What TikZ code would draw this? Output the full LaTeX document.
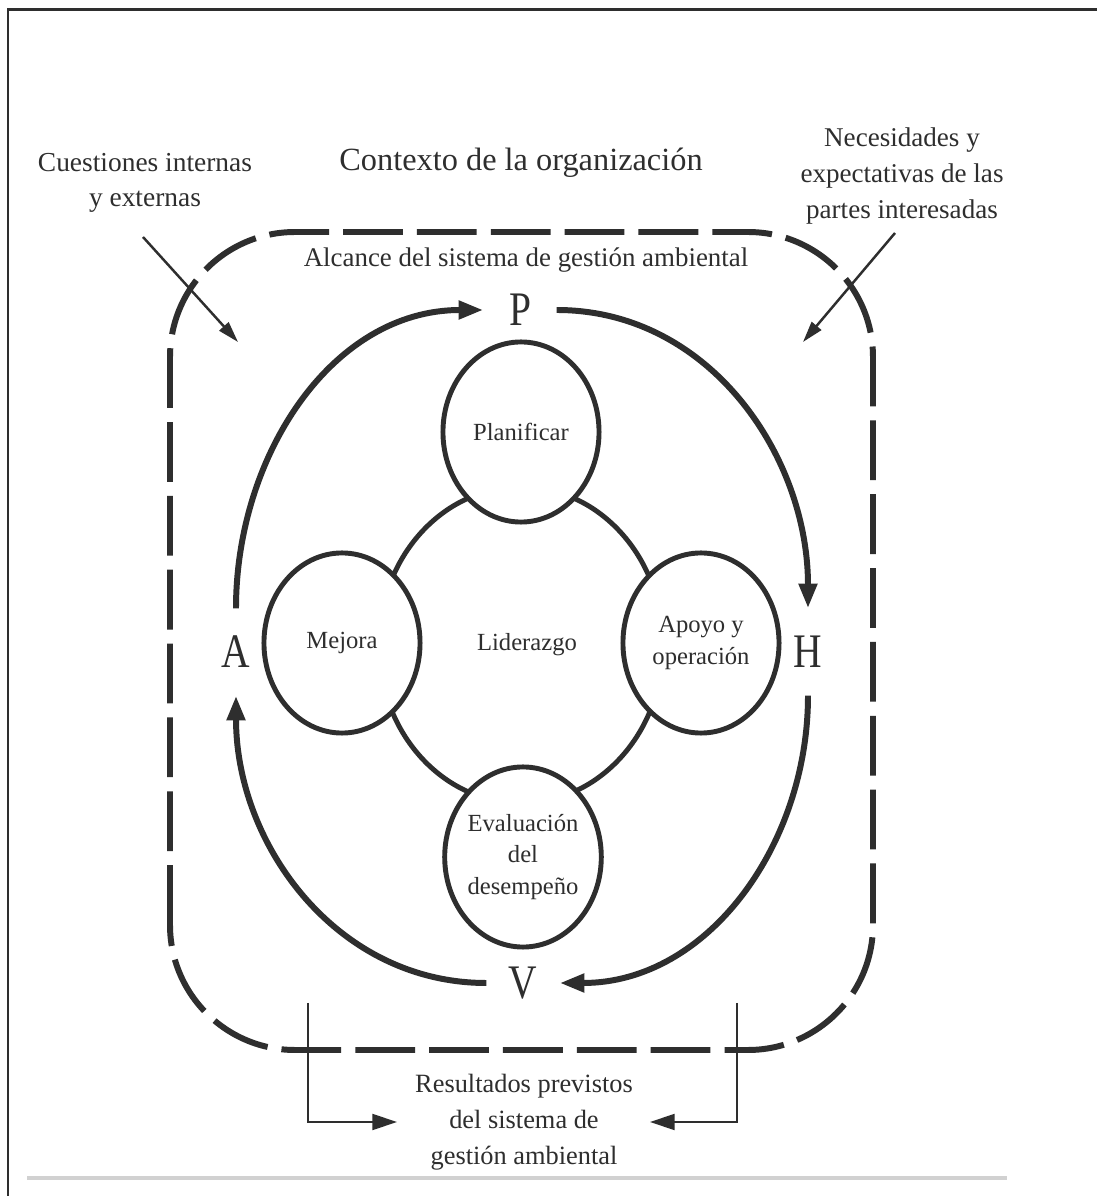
\documentclass[tikz,border=0pt]{standalone}
\usepackage{fontspec}
\setmainfont{Liberation Serif}
\newfontfamily\letterfont{Liberation Serif}[FakeStretch=0.82]
\usetikzlibrary{arrows.meta,shapes.geometric}
\definecolor{ink}{gray}{0.18}
\begin{document}
\begin{tikzpicture}[x=0.01cm,y=0.01cm,
  txt/.style={text=ink, inner sep=0pt, align=center},
  stage/.style={ellipse, draw=ink, line width=1.4pt, fill=white,
    minimum width=1.56cm, minimum height=1.8cm, inner sep=0pt,
    align=center, text=ink, font=\fontsize{7pt}{9pt}\selectfont},
  ring/.style={ellipse, draw=ink, line width=1.4pt,
    minimum width=2.84cm, minimum height=3.16cm, inner sep=0pt,
    text=ink, font=\fontsize{7pt}{9pt}\selectfont},
  letter/.style={ellipse, minimum width=0.72cm, minimum height=0.86cm,
    inner sep=0pt, text=ink, font=\letterfont\fontsize{13.7pt}{14pt}\selectfont},
  cyc/.style={draw=ink, line width=1.7pt, -{Triangle[length=7pt,width=5pt]}},
  inflow/.style={draw=ink, line width=0.7pt, -{Triangle[length=6pt,width=3.5pt]}},
  outflow/.style={draw=ink, line width=0.7pt, -{Triangle[length=7pt,width=4.5pt]}},
  scopebox/.style={draw=ink, line width=1.7pt, rounded corners=1.25cm,
    dash pattern=on 17pt off 4pt}
]
\useasboundingbox (0,0) rectangle (1097,1196);
\fill[white] (0,0) rectangle (1097,1196);

% frame and bottom rule
\draw[ink, line width=0.85pt] (8,0) -- (8,1186) -- (1097,1186);
\draw[black!18, line width=1.1pt] (27,18) -- (1007,18);

% headings
\node[txt, font=\fontsize{9.2pt}{11pt}\selectfont] (ctx) at (521,1033) {Contexto de la organización};
\node[txt, font=\fontsize{7.8pt}{10pt}\selectfont] (issues) at (145,1013) {Cuestiones internas\\y externas};
\node[txt, font=\fontsize{7.7pt}{10.2pt}\selectfont] (needs) at (902,1020) {Necesidades y\\expectativas de las\\partes interesadas};

% scope of the management system
\draw[scopebox] (170,146) rectangle (873,964);
\node[txt, font=\fontsize{7.65pt}{9pt}\selectfont] (scope) at (526,936) {Alcance del sistema de gestión ambiental};

% external inputs
\coordinate (issuesFrom) at (143,959);
\coordinate (issuesTo) at (238,854);
\coordinate (needsFrom) at (895,963);
\coordinate (needsTo) at (803,854);
\draw[inflow] (issuesFrom) -- (issuesTo);
\draw[inflow] (needsFrom) -- (needsTo);

% leadership ring and the four stages
\node[ring] (lead) at (521,551) {\hspace*{0.12cm}Liderazgo};
\node[stage] (plan) at (521,764) {Planificar};
\node[stage] (imp) at (342,553) {Mejora};
\node[stage] (ops) at (701,553) {Apoyo y\\operación};
\node[stage] (eval) at (523,339) {Evaluación\\del\\desempeño};

% PDCA letters and cycle
\node[letter] (P) at (520,886) {P};
\node[letter] (H) at (808,544) {H};
\node[letter] (V) at (523,213) {V};
\node[letter] (A) at (236,544) {A};
\draw[cyc] (A) to[out=90,in=180] (P);
\draw[cyc] (P) to[out=0,in=90] (H);
\draw[cyc] (H) to[out=-90,in=0] (V);
\draw[cyc] (V) to[out=180,in=-90] (A);

% intended outcomes
\node[txt, font=\fontsize{7.5pt}{10.2pt}\selectfont] (out) at (524,74) {Resultados previstos\\del sistema de\\gestión ambiental};
\coordinate (outLtop) at (308,193);
\coordinate (outLcorner) at (308,74);
\coordinate (outLtip) at (397,74);
\coordinate (outRtop) at (737,193);
\coordinate (outRcorner) at (737,74);
\coordinate (outRtip) at (650,74);
\draw[outflow] (outLtop) -- (outLcorner) -- (outLtip);
\draw[outflow] (outRtop) -- (outRcorner) -- (outRtip);
\end{tikzpicture}
\end{document}
